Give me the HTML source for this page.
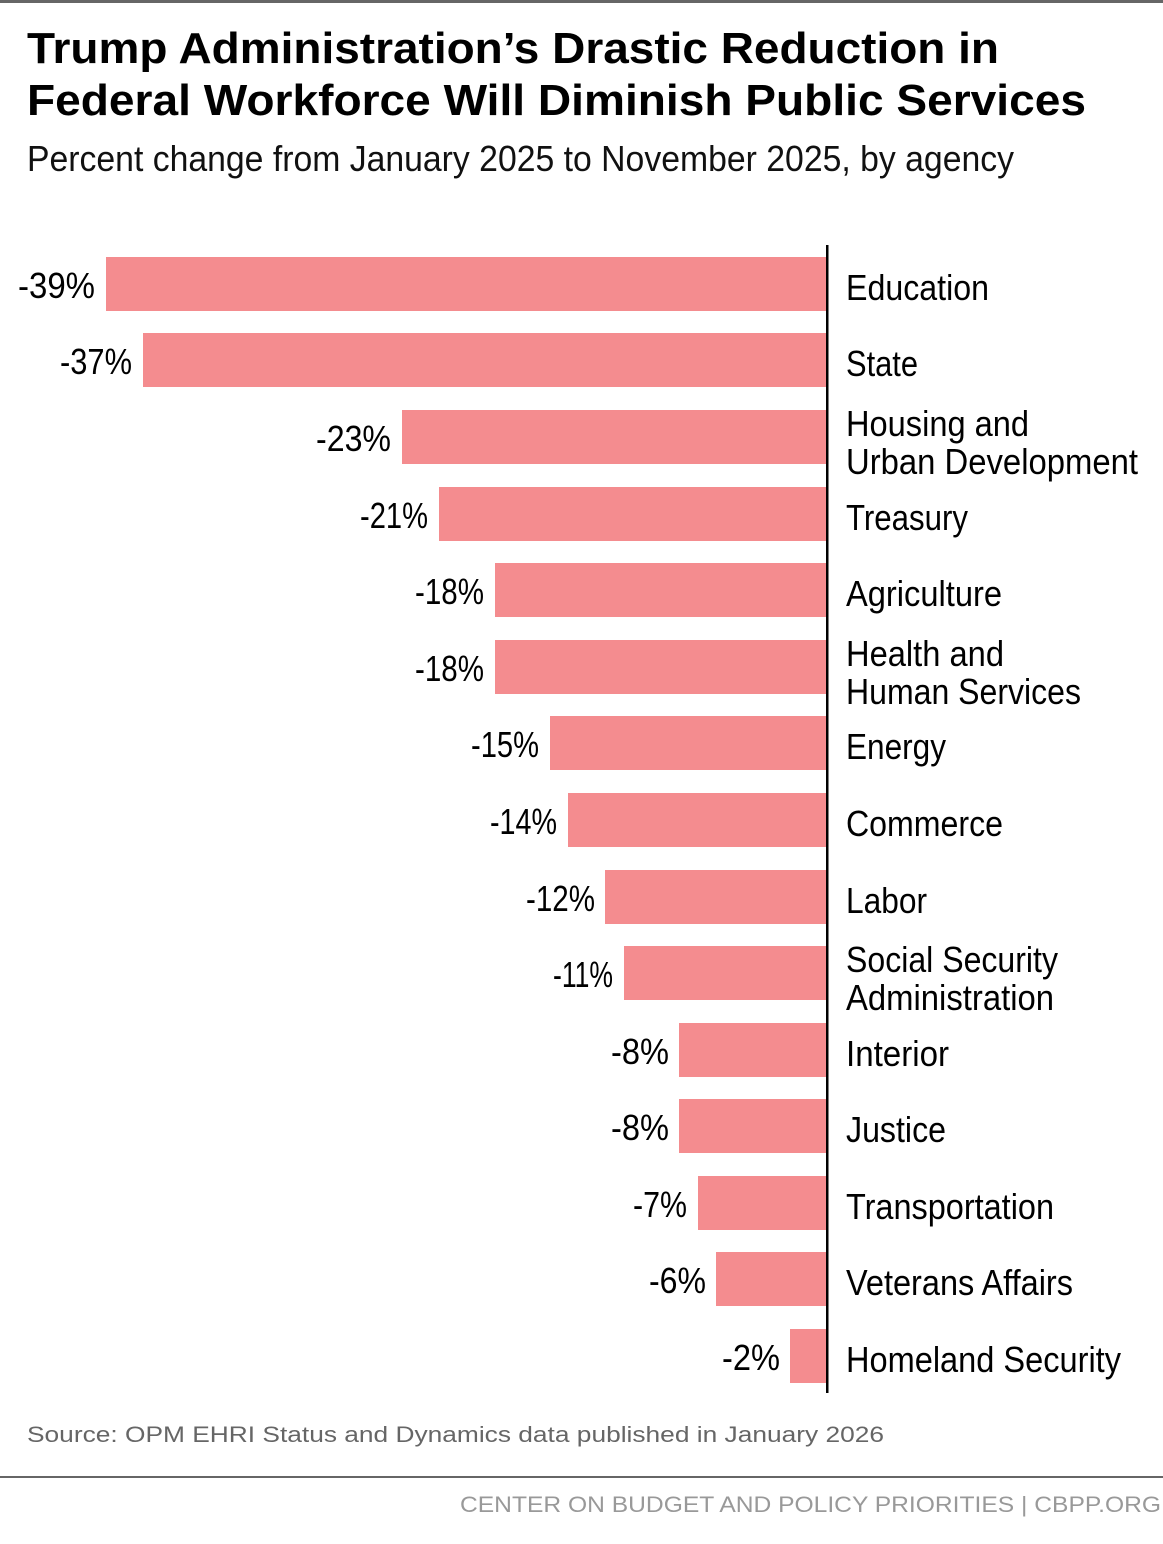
<!DOCTYPE html>
<html><head><meta charset="utf-8"><style>
html,body{margin:0;padding:0;background:#fff}
svg{display:block}
text{font-family:"Liberation Sans",sans-serif}
</style></head><body>
<svg width="1163" height="1544" viewBox="0 0 1163 1544" xmlns="http://www.w3.org/2000/svg">
<rect x="0" y="0" width="1163" height="3" fill="#666"/>
<text x="27" y="63" font-size="44" font-weight="bold" textLength="972" lengthAdjust="spacingAndGlyphs" fill="#000">Trump Administration’s Drastic Reduction in</text>
<text x="27" y="115" font-size="44" font-weight="bold" textLength="1059" lengthAdjust="spacingAndGlyphs" fill="#000">Federal Workforce Will Diminish Public Services</text>
<text x="27" y="171" font-size="36" textLength="987" lengthAdjust="spacingAndGlyphs" fill="#111">Percent change from January 2025 to November 2025, by agency</text>
<g fill="#f48c8f">
<rect x="106" y="257" width="721" height="54"/>
<rect x="143" y="333" width="684" height="54"/>
<rect x="402" y="410" width="425" height="54"/>
<rect x="439" y="487" width="388" height="54"/>
<rect x="495" y="563" width="332" height="54"/>
<rect x="495" y="640" width="332" height="54"/>
<rect x="550" y="716" width="277" height="54"/>
<rect x="568" y="793" width="259" height="54"/>
<rect x="605" y="870" width="222" height="54"/>
<rect x="624" y="946" width="203" height="54"/>
<rect x="679" y="1023" width="148" height="54"/>
<rect x="679" y="1099" width="148" height="54"/>
<rect x="698" y="1176" width="129" height="54"/>
<rect x="716" y="1252" width="111" height="54"/>
<rect x="790" y="1329" width="37" height="54"/>
</g>
<rect x="826" y="245" width="2.5" height="1148" fill="#000"/>
<g font-size="36" fill="#000" lengthAdjust="spacingAndGlyphs">
<text x="18" y="298" textLength="77" lengthAdjust="spacingAndGlyphs">-39%</text>
<text x="60" y="374" textLength="72" lengthAdjust="spacingAndGlyphs">-37%</text>
<text x="316" y="451" textLength="75" lengthAdjust="spacingAndGlyphs">-23%</text>
<text x="360" y="528" textLength="68" lengthAdjust="spacingAndGlyphs">-21%</text>
<text x="415" y="604" textLength="69" lengthAdjust="spacingAndGlyphs">-18%</text>
<text x="415" y="681" textLength="69" lengthAdjust="spacingAndGlyphs">-18%</text>
<text x="471" y="757" textLength="68" lengthAdjust="spacingAndGlyphs">-15%</text>
<text x="490" y="834" textLength="67" lengthAdjust="spacingAndGlyphs">-14%</text>
<text x="526" y="911" textLength="69" lengthAdjust="spacingAndGlyphs">-12%</text>
<text x="553" y="987" textLength="60" lengthAdjust="spacingAndGlyphs">-11%</text>
<text x="611" y="1064" textLength="58" lengthAdjust="spacingAndGlyphs">-8%</text>
<text x="611" y="1140" textLength="58" lengthAdjust="spacingAndGlyphs">-8%</text>
<text x="633" y="1217" textLength="54" lengthAdjust="spacingAndGlyphs">-7%</text>
<text x="649" y="1293" textLength="57" lengthAdjust="spacingAndGlyphs">-6%</text>
<text x="722" y="1370" textLength="58" lengthAdjust="spacingAndGlyphs">-2%</text>

<text x="846" y="300" textLength="143" lengthAdjust="spacingAndGlyphs">Education</text>
<text x="846" y="376" textLength="72" lengthAdjust="spacingAndGlyphs">State</text>
<text x="846" y="436" textLength="183" lengthAdjust="spacingAndGlyphs">Housing and</text>
<text x="846" y="474" textLength="292" lengthAdjust="spacingAndGlyphs">Urban Development</text>
<text x="846" y="530" textLength="122" lengthAdjust="spacingAndGlyphs">Treasury</text>
<text x="846" y="606" textLength="156" lengthAdjust="spacingAndGlyphs">Agriculture</text>
<text x="846" y="666" textLength="158" lengthAdjust="spacingAndGlyphs">Health and</text>
<text x="846" y="704" textLength="235" lengthAdjust="spacingAndGlyphs">Human Services</text>
<text x="846" y="759" textLength="100" lengthAdjust="spacingAndGlyphs">Energy</text>
<text x="846" y="836" textLength="157" lengthAdjust="spacingAndGlyphs">Commerce</text>
<text x="846" y="913" textLength="81" lengthAdjust="spacingAndGlyphs">Labor</text>
<text x="846" y="972" textLength="212" lengthAdjust="spacingAndGlyphs">Social Security</text>
<text x="846" y="1010" textLength="208" lengthAdjust="spacingAndGlyphs">Administration</text>
<text x="846" y="1066" textLength="103" lengthAdjust="spacingAndGlyphs">Interior</text>
<text x="846" y="1142" textLength="100" lengthAdjust="spacingAndGlyphs">Justice</text>
<text x="846" y="1219" textLength="208" lengthAdjust="spacingAndGlyphs">Transportation</text>
<text x="846" y="1295" textLength="227" lengthAdjust="spacingAndGlyphs">Veterans Affairs</text>
<text x="846" y="1372" textLength="275" lengthAdjust="spacingAndGlyphs">Homeland Security</text>
</g>
<text x="27" y="1442" font-size="22" fill="#666" textLength="857" lengthAdjust="spacingAndGlyphs">Source: OPM EHRI Status and Dynamics data published in January 2026</text>
<rect x="0" y="1476" width="1163" height="2" fill="#666"/>
<text x="460" y="1512" font-size="22" fill="#999" textLength="701" lengthAdjust="spacingAndGlyphs">CENTER ON BUDGET AND POLICY PRIORITIES | CBPP.ORG</text>
</svg>
</body></html>
